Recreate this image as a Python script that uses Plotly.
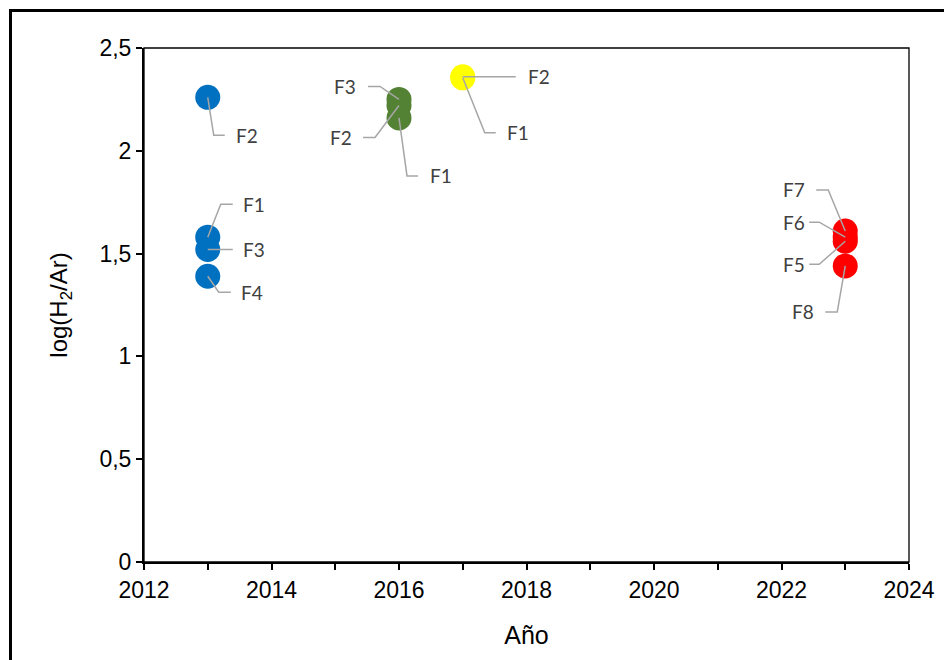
import plotly.graph_objects as go

# ---- data ----
blue_year = 2013
blue_names = ["F1", "F2", "F3", "F4"]
blue_vals = [1.58, 2.26, 1.52, 1.39]

green_year = 2016
green_names = ["F1", "F2", "F3"]
green_vals = [2.16, 2.22, 2.25]

yellow_year = 2017
yellow_names = ["F1", "F2"]
yellow_vals = [2.355, 2.36]

red_year = 2023
red_names = ["F5", "F6", "F7", "F8"]
red_vals = [1.56, 1.58, 1.61, 1.44]

x_ticks = [2012, 2014, 2016, 2018, 2020, 2022, 2024]
y_ticks = [0, 0.5, 1, 1.5, 2, 2.5]

# ---- label leader styles (screen pixel offsets: elbow dx, dy(down), end dx, text dx, side) ----
blue_style = {
    "F1": (13, -33, 25, 33, "left"),
    "F2": (6, 38, 17, 26, "left"),
    "F3": (1, 0, 25, 33, "left"),
    "F4": (11, 16, 23, 31, "left"),
}
green_style = {
    "F1": (8, 58, 19, 29, "left"),
    "F2": (-24, 32, -36, -45, "right"),
    "F3": (-19, -13, -31, -41, "right"),
}
yellow_style = {
    "F1": (22, 55, 33, 42, "left"),
    "F2": (1, 0, 53, 63, "left"),
}
red_style = {
    "F5": (-26, 23, -36, -38, "right"),
    "F6": (-26, -15, -36, -38, "right"),
    "F7": (-17, -41, -29, -38, "right"),
    "F8": (-8, 46, -20, -29, "right"),
}

groups = [
    (blue_year, blue_names, blue_vals, "#0070C0", blue_style),
    (green_year, green_names, green_vals, "#548235", green_style),
    (yellow_year, yellow_names, yellow_vals, "#FFFF00", yellow_style),
    (red_year, red_names, red_vals, "#FF0000", red_style),
]

fig = go.Figure()
shapes = []
annotations = []
lead_col = "#A6A6A6"
lab_font = dict(family="Lato, Noto Sans, sans-serif", size=19, color="#404040")

for year, names, vals, col, style in groups:
    fig.add_trace(go.Scatter(
        x=[year] * len(vals), y=vals, mode="markers",
        marker=dict(size=25, color=col, line=dict(width=0)),
        showlegend=False, hoverinfo="text", text=names,
    ))
    for n, v in zip(names, vals):
        ex, ey, hx, tx, side = style[n]
        shapes.append(dict(
            type="path", xref="x", yref="y",
            xsizemode="pixel", ysizemode="pixel",
            xanchor=year, yanchor=v,
            path=f"M 0,0 L {ex},{-ey} L {hx},{-ey}",
            line=dict(color=lead_col, width=1.5), layer="above",
        ))
        annotations.append(dict(
            x=year, y=v, xref="x", yref="y", text=n, showarrow=False,
            xshift=tx, yshift=-ey, xanchor=side, yanchor="middle",
            font=lab_font,
        ))

# plot-area border (top/right)
shapes.append(dict(type="rect", xref="paper", yref="paper", x0=0, x1=1, y0=0, y1=1,
                   line=dict(color="black", width=1.3), layer="below"))
# outer chart border
shapes.append(dict(type="rect", xref="paper", yref="paper", x0=-0.1745, x1=1.2, y0=-0.5, y1=1.073,
                   line=dict(color="black", width=3), layer="below"))

tick_font = dict(family="Liberation Sans, Arial, sans-serif", size=23, color="black")

fig.update_layout(
    width=944, height=652,
    margin=dict(l=136, r=43, t=40, b=98),
    paper_bgcolor="white", plot_bgcolor="white",
    separators=",.",
    shapes=shapes, annotations=annotations,
    xaxis=dict(
        range=[2012, 2024], tickvals=x_ticks, ticks="outside", ticklen=6, tickwidth=1.5,
        tickcolor="black", showline=True, linecolor="black", linewidth=2,
        showgrid=False, zeroline=False, tickfont=tick_font,
        minor=dict(dtick=1, tick0=2012, ticks="outside", ticklen=6, tickwidth=1.5, tickcolor="black", showgrid=False),
        title=dict(text="Año", font=dict(family="Liberation Sans, Arial, sans-serif", size=25, color="black"), standoff=25),
    ),
    yaxis=dict(
        range=[0, 2.5], tickvals=y_ticks, ticks="outside", ticklen=6, tickwidth=1.5,
        tickcolor="black", showline=True, linecolor="black", linewidth=2,
        showgrid=False, zeroline=False, tickfont=tick_font,
        title=dict(text="log(H<sub>2</sub>/Ar)", font=dict(family="Liberation Sans, Arial, sans-serif", size=24, color="black"), standoff=25),
    ),
)

fig.write_html("out.html")
